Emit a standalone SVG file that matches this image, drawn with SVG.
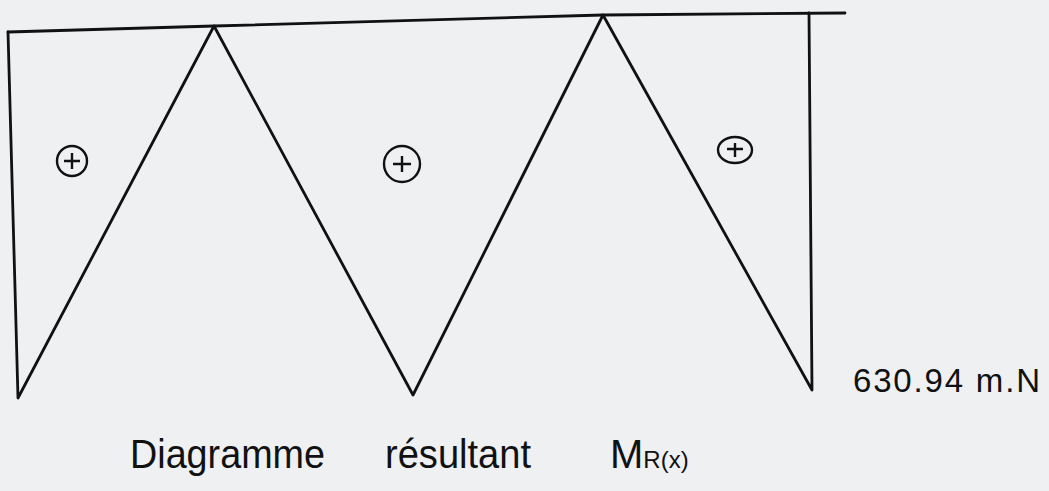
<svg xmlns="http://www.w3.org/2000/svg" width="1049" height="491" viewBox="0 0 1049 491">
<style>
.ln{fill:none;stroke:#111;stroke-width:2.8;stroke-linecap:round;stroke-linejoin:round}
.sg{fill:none;stroke:#111;stroke-width:2.4}
.t{font-family:"Liberation Sans",Arial,sans-serif;fill:#111}
</style>
<rect width="1049" height="491" fill="#eef0f2"/>
<g id="connectors">
<path class="ln" d="M8,32 L214,26 L603,15 L845,13"/>
<path class="ln" d="M8,32 L18,398 L214,26 L413,395 L603,15 L812,390 L809,13"/>
</g>
<g id="sign1"><ellipse class="sg" cx="72" cy="161" rx="15" ry="15"/><path class="sg" d="M64,161H80M72,153V169"/></g>
<g id="sign2"><ellipse class="sg" cx="402" cy="164" rx="18" ry="18"/><path class="sg" d="M393,164H411M402,156V172"/></g>
<g id="sign3"><ellipse class="sg" cx="735" cy="150" rx="17" ry="13"/><path class="sg" d="M727,149H743M735,143V157"/></g>
<g id="value"><text class="t" x="853" y="392" font-size="33" textLength="187" lengthAdjust="spacing">630.94 m.N</text></g>
<g id="title">
<text class="t" x="130" y="468" font-size="40" textLength="195" lengthAdjust="spacingAndGlyphs">Diagramme</text>
<text class="t" x="385" y="468" font-size="40" textLength="146" lengthAdjust="spacingAndGlyphs">résultant</text>
<text class="t" x="610" y="468" font-size="40">M<tspan font-size="24">R(x)</tspan></text>
</g>
</svg>
